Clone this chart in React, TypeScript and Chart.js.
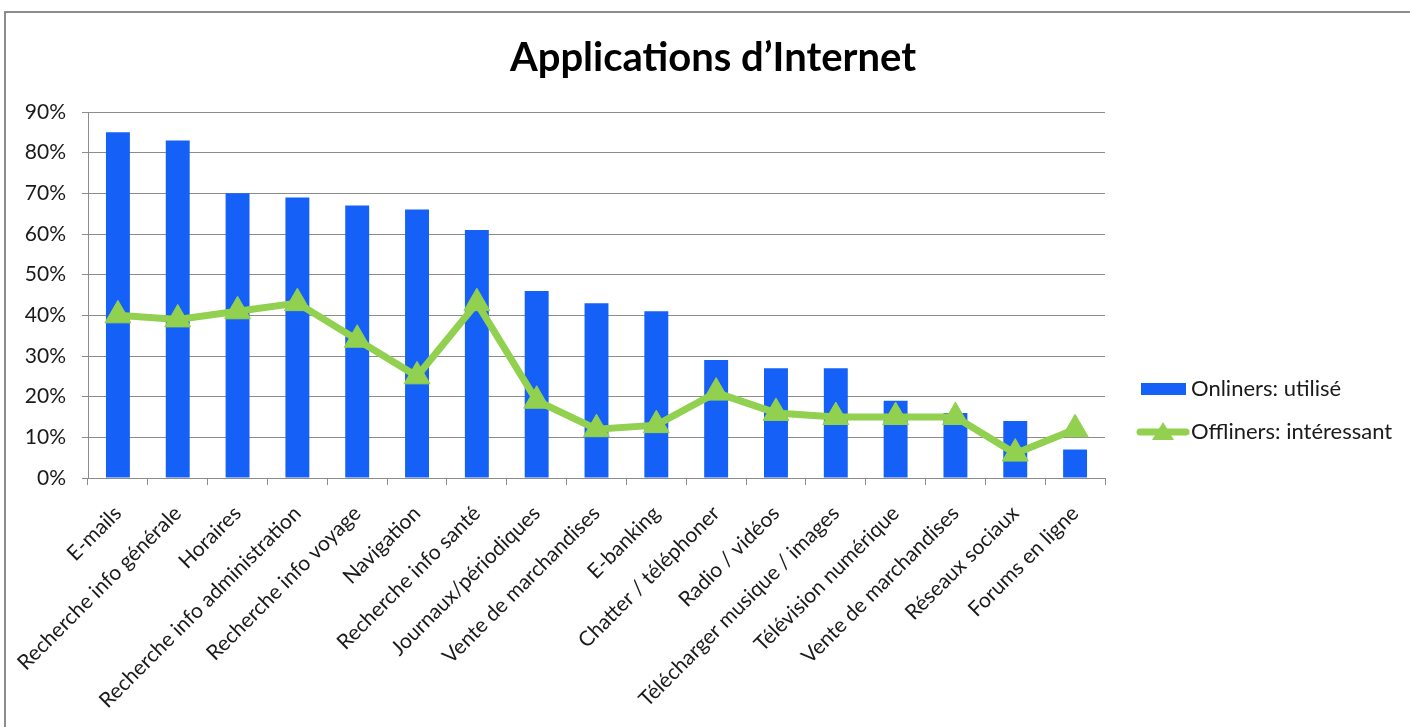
import React, { useEffect, useRef } from "react";
import { Chart, registerables } from "chart.js";

Chart.register(...registerables);

const categories = [
  "E-mails",
  "Recherche info générale",
  "Horaires",
  "Recherche info administration",
  "Recherche info voyage",
  "Navigation",
  "Recherche info santé",
  "Journaux/périodiques",
  "Vente de marchandises",
  "E-banking",
  "Chatter / téléphoner",
  "Radio / vidéos",
  "Télécharger musique / images",
  "Télévision numérique",
  "Vente de marchandises",
  "Réseaux sociaux",
  "Forums en ligne",
];

const onliners = [85, 83, 70, 69, 67, 66, 61, 46, 43, 41, 29, 27, 27, 19, 16, 14, 7];
const offliners = [40, 39, 41, 43, 34, 25, 43, 19, 12, 13, 21, 16, 15, 15, 15, 6, 12];

const yTickValues = [0, 10, 20, 30, 40, 50, 60, 70, 80, 90];

const titleText = "Applications d\u2019Internet";
const seriesNames = ["Onliners: utilisé", "Offliners: intéressant"];

const BLUE = "#1560F6";
const GREEN = "#92D050";
const FONT = "Lato, 'Open Sans', sans-serif";

const decorPlugin = {
  id: "decor",
  afterDraw(chart: any) {
    const ctx = chart.ctx as CanvasRenderingContext2D;
    ctx.save();
    // title
    ctx.fillStyle = "#000";
    ctx.font = `bold 40px ${FONT}`;
    ctx.textAlign = "center";
    ctx.textBaseline = "middle";
    ctx.fillText(titleText, 713, 58);

    // legend
    ctx.font = `22px ${FONT}`;
    ctx.textAlign = "left";
    ctx.fillStyle = BLUE;
    ctx.fillRect(1141, 383, 45, 12);
    ctx.fillStyle = "#1a1a1a";
    ctx.fillText(seriesNames[0], 1191, 389);

    ctx.strokeStyle = GREEN;
    ctx.lineWidth = 7;
    ctx.lineCap = "round";
    ctx.beginPath();
    ctx.moveTo(1140, 432);
    ctx.lineTo(1186, 432);
    ctx.stroke();
    ctx.fillStyle = GREEN;
    ctx.beginPath();
    ctx.moveTo(1163, 422);
    ctx.lineTo(1174, 440);
    ctx.lineTo(1152, 440);
    ctx.closePath();
    ctx.fill();
    ctx.fillStyle = "#1a1a1a";
    ctx.fillText(seriesNames[1], 1191, 432);
    ctx.restore();
  },
};

export default function App() {
  const ref = useRef<HTMLCanvasElement>(null);

  useEffect(() => {
    if (!ref.current) return;
    const chart = new Chart(ref.current, {
      type: "bar",
      data: {
        labels: categories,
        datasets: [
          {
            type: "line",
            label: seriesNames[1],
            data: offliners,
            borderColor: GREEN,
            backgroundColor: GREEN,
            borderWidth: 7,
            pointStyle: "triangle",
            pointRadius: 15,
            pointHoverRadius: 15,
            pointBackgroundColor: GREEN,
            pointBorderColor: GREEN,
            pointBorderWidth: 1,
            tension: 0,
            order: 0,
          } as any,
          {
            type: "bar",
            label: seriesNames[0],
            data: onliners,
            backgroundColor: BLUE,
            borderWidth: 0,
            barPercentage: 0.4,
            categoryPercentage: 1,
            order: 1,
          } as any,
        ],
      },
      options: {
        responsive: false,
        animation: false,
        devicePixelRatio: 1,
        layout: { padding: { left: 8, right: 305, top: 112, bottom: 0 } },
        plugins: {
          legend: { display: false },
          title: { display: false },
          tooltip: { enabled: false },
        },
        scales: {
          x: {
            grid: {
              offset: true,
              drawOnChartArea: false,
              drawTicks: true,
              tickLength: 7,
              color: "#8c8c8c",
            },
            border: { color: "#8c8c8c", width: 1 },
            ticks: {
              autoSkip: false,
              maxRotation: 45,
              minRotation: 45,
              color: "#1a1a1a",
              font: { family: FONT, size: 21 },
              padding: 16,
            },
            afterFit: (s: any) => {
              s.height = 249;
            },
          },
          y: {
            min: 0,
            max: 90,
            afterBuildTicks: (s: any) => {
              s.ticks = yTickValues.map((v) => ({ value: v }));
            },
            grid: {
              color: "#8c8c8c",
              tickLength: 6,
              lineWidth: 1,
            },
            border: { color: "#8c8c8c", width: 1 },
            ticks: {
              color: "#1a1a1a",
              font: { family: FONT, size: 21 },
              padding: 16,
              callback: (v: any) => `${v}%`,
            },
            afterFit: (s: any) => {
              s.width = 80;
            },
          },
        },
      },
      plugins: [decorPlugin],
    });
    return () => chart.destroy();
  }, []);

  return (
    <div style={{ position: "absolute", left: 0, top: 0, width: 1410, height: 727, background: "#fff", overflow: "hidden" }}>
      <div
        style={{
          position: "absolute",
          left: 4,
          top: 11,
          width: 1420,
          height: 730,
          borderTop: "2px solid #8c8c8c",
          borderLeft: "2px solid #8c8c8c",
        }}
      />
      <canvas ref={ref} width={1410} height={727} style={{ position: "absolute", left: 0, top: 0, display: "block" }} />
    </div>
  );
}
